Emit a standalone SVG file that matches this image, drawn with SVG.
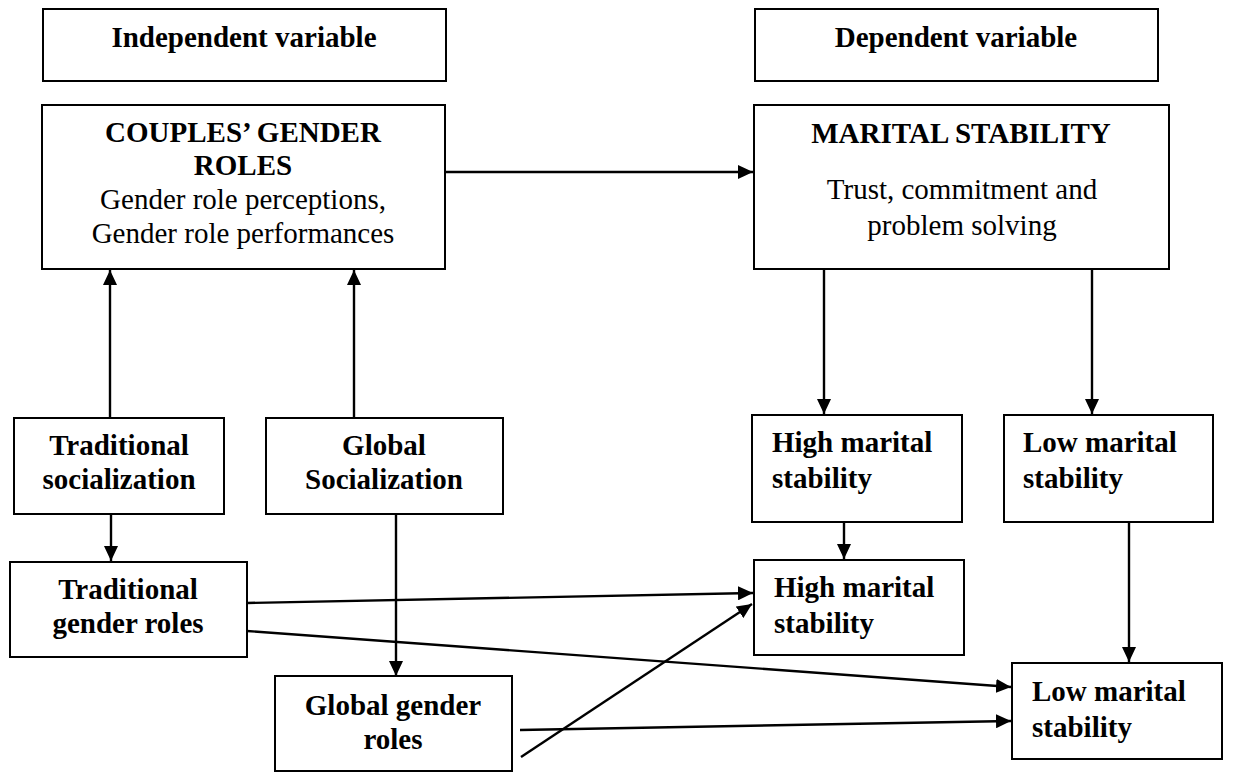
<svg xmlns="http://www.w3.org/2000/svg" width="1244" height="772" viewBox="0 0 1244 772">
<style>
.box{fill:#fff;stroke:#000;stroke-width:2}
.t{font-family:"Liberation Serif","Times New Roman",serif;font-size:29px;fill:#000}
.b{font-weight:bold}
.c{text-anchor:middle}
.ln{stroke:#000;stroke-width:2.4;fill:none;marker-end:url(#ah)}
</style>
<defs>
<marker id="ah" markerUnits="userSpaceOnUse" markerWidth="16" markerHeight="14" refX="15" refY="7" orient="auto">
<path d="M0,0 L15,7 L0,14 z" fill="#000"/>
</marker>
</defs>
<rect width="1244" height="772" fill="#fff"/>
<g id="connectors">
<line class="ln" x1="445" y1="172" x2="753" y2="172"/>
<line class="ln" x1="110" y1="418" x2="110" y2="270"/>
<line class="ln" x1="354" y1="418" x2="354" y2="270"/>
<line class="ln" x1="111" y1="514" x2="111" y2="561"/>
<line class="ln" x1="396" y1="514" x2="396" y2="676"/>
<line class="ln" x1="824" y1="269" x2="824" y2="414"/>
<line class="ln" x1="1092" y1="269" x2="1092" y2="414"/>
<line class="ln" x1="844" y1="522" x2="844" y2="559"/>
<line class="ln" x1="1129" y1="522" x2="1129" y2="662"/>
<line class="ln" x1="247" y1="603" x2="753" y2="593"/>
<line class="ln" x1="247" y1="631" x2="1011" y2="687"/>
<line class="ln" x1="520" y1="730" x2="1011" y2="721"/>
<line class="ln" x1="521" y1="757" x2="752" y2="604"/>
</g>
<g id="independent">
<rect class="box" x="43" y="9" width="403" height="72"/>
<text class="t b c" x="244" y="47">Independent variable</text>
</g>
<g id="dependent">
<rect class="box" x="755" y="9" width="403" height="72"/>
<text class="t b c" x="956" y="47">Dependent variable</text>
</g>
<g id="couples">
<rect class="box" x="42" y="105" width="403" height="164"/>
<text class="t b c" x="243" y="142">COUPLES’ GENDER</text>
<text class="t b c" x="243" y="175">ROLES</text>
<text class="t c" x="243" y="209">Gender role perceptions,</text>
<text class="t c" x="243" y="243">Gender role performances</text>
</g>
<g id="marital">
<rect class="box" x="754" y="105" width="415" height="164"/>
<text class="t b c" x="961" y="143">MARITAL STABILITY</text>
<text class="t c" x="962" y="199">Trust, commitment and</text>
<text class="t c" x="962" y="235">problem solving</text>
</g>
<g id="trad-soc">
<rect class="box" x="14" y="418" width="210" height="96"/>
<text class="t b c" x="119" y="455">Traditional</text>
<text class="t b c" x="119" y="489">socialization</text>
</g>
<g id="glob-soc">
<rect class="box" x="266" y="418" width="237" height="96"/>
<text class="t b c" x="384" y="455">Global</text>
<text class="t b c" x="384" y="489">Socialization</text>
</g>
<g id="high1">
<rect class="box" x="752" y="415" width="210" height="107"/>
<text class="t b" x="772" y="452">High marital</text>
<text class="t b" x="772" y="488">stability</text>
</g>
<g id="low1">
<rect class="box" x="1004" y="415" width="209" height="107"/>
<text class="t b" x="1023" y="452">Low marital</text>
<text class="t b" x="1023" y="488">stability</text>
</g>
<g id="trad-roles">
<rect class="box" x="10" y="562" width="237" height="95"/>
<text class="t b c" x="128" y="599">Traditional</text>
<text class="t b c" x="128" y="633">gender roles</text>
</g>
<g id="high2">
<rect class="box" x="754" y="560" width="210" height="95"/>
<text class="t b" x="774" y="597">High marital</text>
<text class="t b" x="774" y="633">stability</text>
</g>
<g id="low2">
<rect class="box" x="1012" y="663" width="210" height="96"/>
<text class="t b" x="1032" y="701">Low marital</text>
<text class="t b" x="1032" y="737">stability</text>
</g>
<g id="glob-roles">
<rect class="box" x="275" y="676" width="237" height="95"/>
<text class="t b c" x="393" y="715">Global gender</text>
<text class="t b c" x="393" y="749">roles</text>
</g>
</svg>
